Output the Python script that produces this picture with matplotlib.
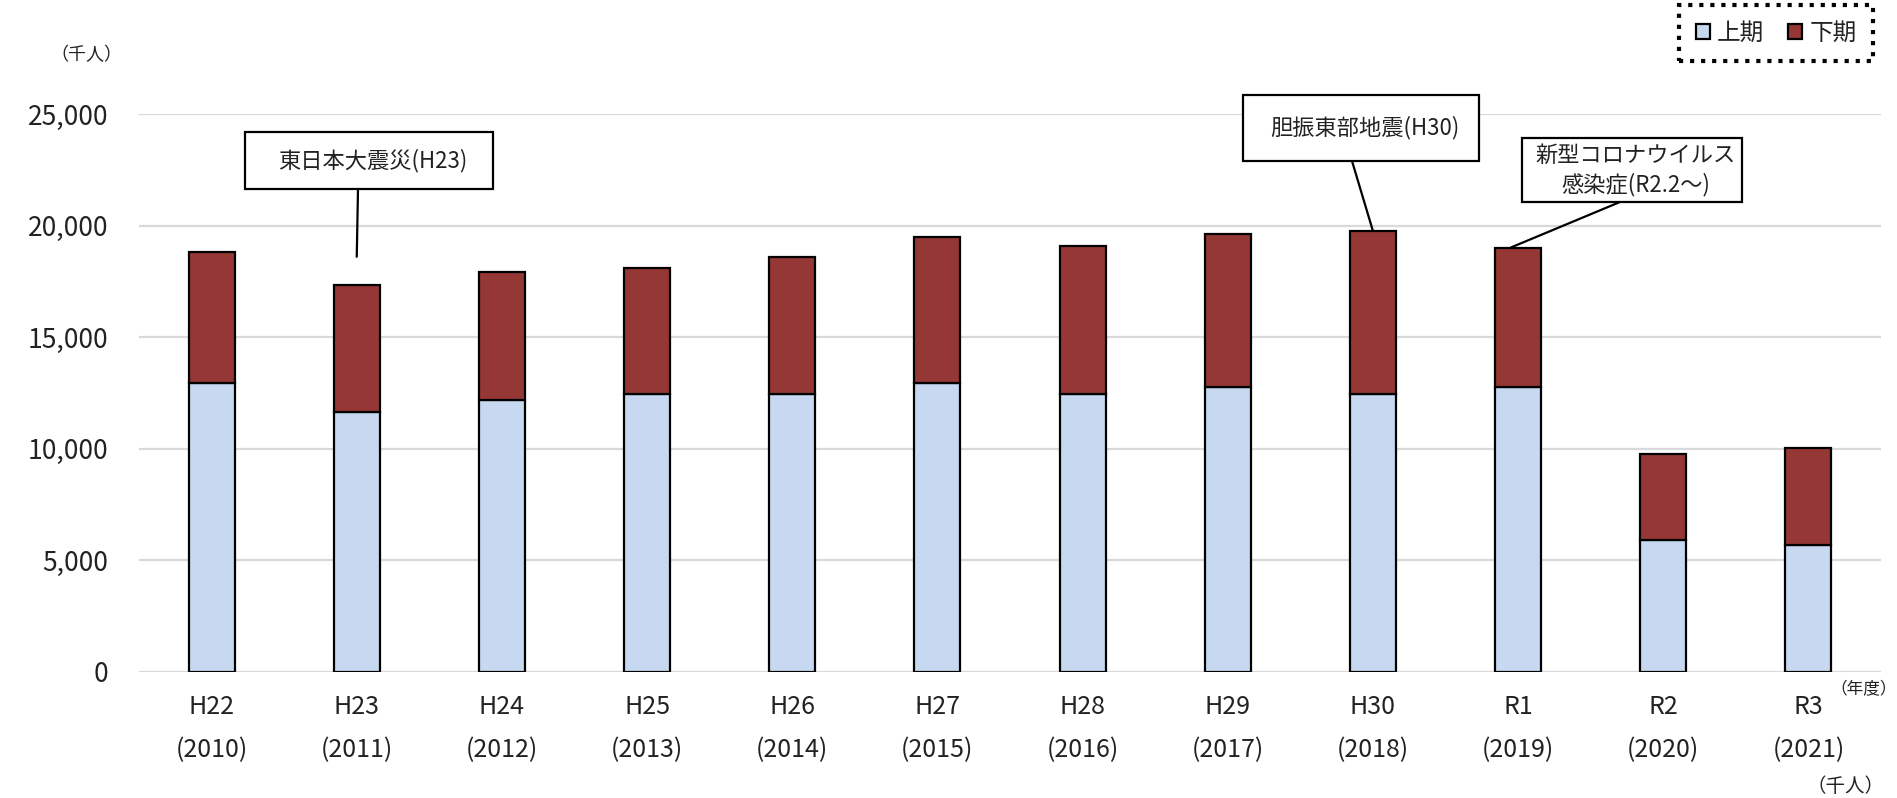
import matplotlib

matplotlib.use("Agg")
import matplotlib.pyplot as plt
from matplotlib.patches import Rectangle
import numpy as np

plt.rcParams["font.family"] = ["Noto Sans CJK JP", "DejaVu Sans"]

# fiscal years (era / western)
eras = ["H22", "H23", "H24", "H25", "H26", "H27", "H28", "H29", "H30", "R1", "R2", "R3"]
years = ["2010", "2011", "2012", "2013", "2014", "2015", "2016", "2017", "2018", "2019", "2020", "2021"]

# visitors, thousand people
kamiki = [12930, 11670, 12180, 12450, 12460, 12970, 12460, 12750, 12450, 12790, 5925, 5690]
shimoki = [5900, 5690, 5750, 5660, 6140, 6505, 6640, 6875, 7320, 6235, 3850, 4355]

yticks = [0, 5000, 10000, 15000, 20000, 25000]

BLUE = "#C6D9F0"
RED = "#953735"
GRID = "#D9D9D9"
TXT = "#222222"

W, H = 1897, 798
fig = plt.figure(figsize=(W / 100, H / 100), dpi=100)
ax = fig.add_axes([139 / W, 126.3 / H, 1742 / W, 557.4 / H])

x = np.arange(len(eras))
kamiki = np.array(kamiki)
shimoki = np.array(shimoki)
total = kamiki + shimoki

b1 = ax.bar(x, kamiki, width=0.317, color=BLUE, edgecolor="black", linewidth=1.6, label="上期", zorder=3)
b2 = ax.bar(x, shimoki, width=0.317, bottom=kamiki, color=RED, edgecolor="black", linewidth=1.6,
            label="下期", zorder=3)

ax.set_xlim(-0.5, len(eras) - 0.5)
ax.set_ylim(0, 25000)
ax.set_yticks(yticks)
ax.set_yticklabels([f"{v:,}" for v in yticks])
ax.set_xticks(x)
ax.set_xticklabels(eras)
ax.tick_params(axis="y", length=0, pad=22, labelsize=19, labelcolor=TXT)
ax.tick_params(axis="x", length=0, pad=16, labelsize=18, labelcolor=TXT)
for spine in ax.spines.values():
    spine.set_visible(False)
ax.grid(axis="y", color=GRID, linewidth=1.6, zorder=0)
ax.set_axisbelow(True)

# second row of x labels: western year
for i, y in enumerate(years):
    ax.annotate(f"({y})", xy=(i, 0), xycoords=("data", "axes fraction"), xytext=(0, -78),
                textcoords="offset pixels", ha="center", va="center", fontsize=18, color=TXT)

# unit labels
fig.text(50 / W, 1 - 55 / H, "（千人）", fontsize=13, color=TXT, ha="left", va="center")
fig.text(1807 / W, 1 - 787 / H, "（千人）", fontsize=14, color=TXT, ha="left", va="center")
fig.text(1830 / W, 1 - 690 / H, "（年度）", fontsize=12, color=TXT, ha="left", va="center")

# legend with dotted frame
leg = ax.legend(handles=[b1, b2], loc="upper right", ncol=2, bbox_to_anchor=(1873 / W, 1 - 5 / H),
                bbox_transform=fig.transFigure, borderaxespad=0, fontsize=17, handlelength=0.6,
                handleheight=0.6, handletextpad=0.3, columnspacing=1.0, borderpad=0.7,
                fancybox=False, framealpha=1)
leg.get_frame().set_edgecolor("black")
leg.get_frame().set_linestyle(":")
leg.get_frame().set_linewidth(3)
for t in leg.get_texts():
    t.set_color(TXT)


def callout(text, left, top, right, bottom, start_x, target):
    fig.patches.append(Rectangle((left / W, 1 - bottom / H), (right - left) / W, (bottom - top) / H,
                                 transform=fig.transFigure, facecolor="white", edgecolor="black",
                                 linewidth=1.6, zorder=5))
    fig.text((left + right) / 2 / W + 4 / W, 1 - (top + bottom) / 2 / H, text, fontsize=16, color=TXT,
             ha="center", va="center", linespacing=1.3, zorder=6)
    ax.annotate("", xy=target, xycoords="data", xytext=(start_x / W, 1 - bottom / H),
                textcoords="figure fraction",
                arrowprops=dict(arrowstyle="-", color="black", lw=1.6, shrinkA=0, shrinkB=0))


callout("東日本大震災(H23)", 245, 132, 493, 189, 358, (1, total[1] + 1250))
callout("胆振東部地震(H30)", 1243, 95, 1479, 161, 1352, (8, total[8]))
callout("新型コロナウイルス\n感染症(R2.2～)", 1522, 138, 1742, 202, 1620, (8.95, total[9]))

fig.savefig("out.png", dpi=100)
